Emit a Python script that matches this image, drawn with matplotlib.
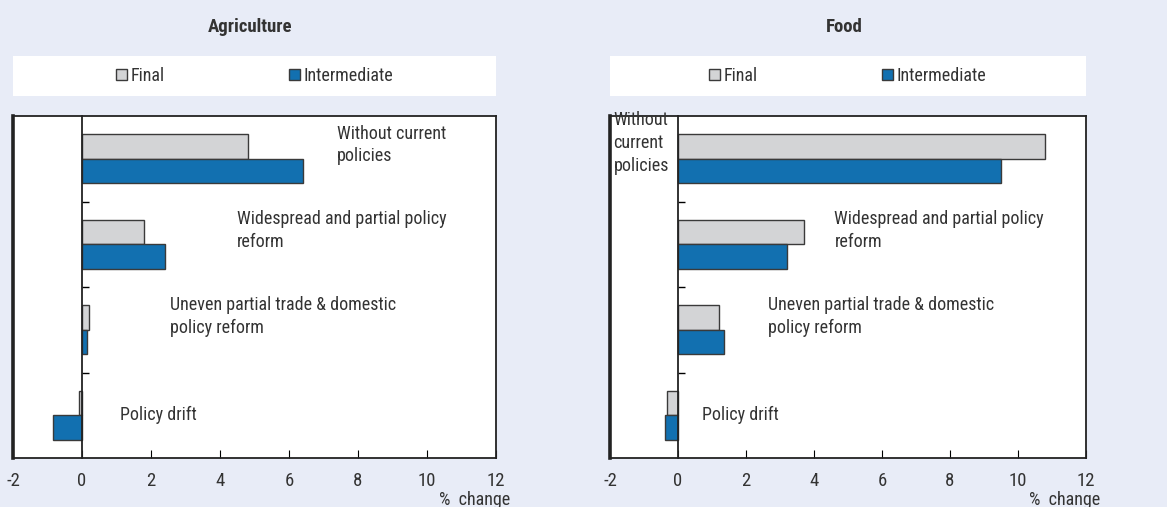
import numpy as np
import matplotlib.pyplot as plt
from matplotlib.patches import Rectangle, Patch

# police étroite (Roboto Condensed), sinon Liberation Sans
plt.rcParams['font.family'] = ['Roboto Condensed', 'Liberation Sans', 'DejaVu Sans']
plt.rcParams['font.size'] = 13

# Données
scenarios = ['Without current\npolicies',
             'Widespread and partial policy\nreform',
             'Uneven partial trade & domestic\npolicy reform',
             'Policy drift']
agri_final = [4.8, 1.8, 0.2, -0.1]
agri_inter = [6.4, 2.4, 0.15, -0.83]
food_final = [10.8, 3.7, 1.2, -0.33]
food_inter = [9.5, 3.2, 1.35, -0.37]
xticks = [-2, 0, 2, 4, 6, 8, 10, 12]

# positions des étiquettes (x en données)
agri_lab_x = [7.4, 4.5, 2.55, 1.1]
food_lab_x = [-1.9, 4.6, 2.65, 0.7]

fond = '#e8ecf7'
gris = '#d3d4d6'
bleu = '#1270b0'
bord = '#3a3a3a'
texte = '#333333'

fig = plt.figure(figsize=(11.67, 5.07), dpi=100)
fig.patch.set_facecolor(fond)

def panneau(rect, titre, finale, inter, lab_x, food=False):
    ax = fig.add_axes(rect)
    y = np.arange(len(scenarios))
    h = 0.287
    ax.barh(y - h / 2, finale, height=h, color=gris, edgecolor=bord, linewidth=1)
    ax.barh(y + h / 2, inter, height=h, color=bleu, edgecolor=bord, linewidth=1)
    ax.set_xlim(-2, 12)
    ax.set_ylim(3.5, -0.5)
    ax.set_xticks(xticks)
    ax.set_xticklabels([str(v) for v in xticks])
    ax.tick_params(axis='x', direction='in', length=6, pad=10, labelsize=13.5,
                   labelcolor=texte)
    ax.set_yticks([0.5, 1.5, 2.5])
    ax.set_yticklabels([])
    ax.spines['left'].set_position(('data', 0))
    ax.tick_params(axis='y', direction='in', length=5, width=1)
    for s in ax.spines.values():
        s.set_linewidth(1.3)
        s.set_color('#222222')
    ax.axvline(-2, color='#222222', lw=2.6, clip_on=False)
    # étiquettes des scénarios
    for i, txt in enumerate(scenarios):
        if food and i == 0:
            ax.text(lab_x[i], -0.56, 'Without\ncurrent\npolicies', va='top', ha='left',
                    color=texte, linespacing=1.35)
        elif i == 3:
            ax.text(lab_x[i], i, txt, va='center', ha='left', color=texte)
        else:
            ax.text(lab_x[i], i - 0.4, txt, va='top', ha='left', color=texte,
                    linespacing=1.35)
    l, b, w, hh = rect
    ax.text(1.0 + 14 / (w * 1167), -0.097, '%  change', transform=ax.transAxes,
            ha='right', va='top', color=texte)
    fig.text(l + w / 2 - 4 / 1167, 1 - 27 / 507, titre, fontweight='bold', fontsize=13.5,
             color=texte, ha='center', va='center')
    # légende sur fond blanc
    fig.patches.append(Rectangle((l, 0.8107), w, 0.0789, transform=fig.transFigure,
                                 facecolor='white', edgecolor='none', zorder=0))
    poignees = [Patch(facecolor=gris, edgecolor=bord, label='Final'),
                Patch(facecolor=bleu, edgecolor=bord, label='Intermediate')]
    fig.legend(handles=poignees, loc='center', ncol=2, frameon=False,
               bbox_to_anchor=(l + w / 2, 0.8107 + 0.0789 / 2),
               handlelength=0.6, handleheight=0.6, handletextpad=0.2,
               columnspacing=6.9, fontsize=13, labelcolor=texte)
    return ax

panneau([13 / 1167, 0.0966, 483 / 1167, 0.6746], 'Agriculture', agri_final, agri_inter, agri_lab_x)
panneau([610 / 1167, 0.0966, 476 / 1167, 0.6746], 'Food', food_final, food_inter, food_lab_x, food=True)

fig.savefig('out.png', dpi=100, facecolor=fond)
